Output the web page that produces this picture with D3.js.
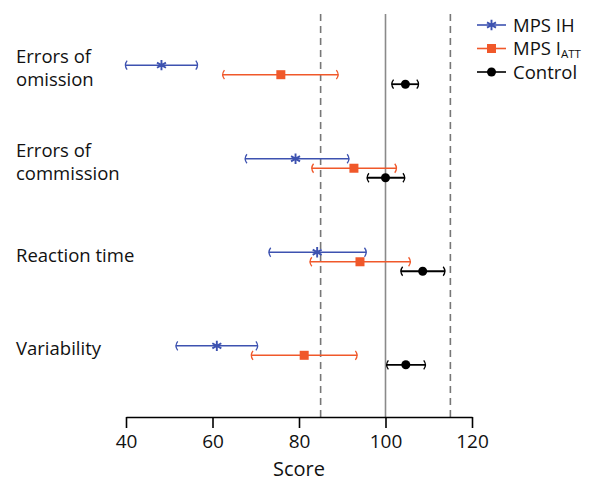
<!DOCTYPE html>
<html>
<head>
<meta charset="utf-8">
<script src="https://cdn.jsdelivr.net/npm/d3@7"></script>
<style>
  body { margin: 0; background: #fff; }
  text { font-family: "Open Sans", "Noto Sans", sans-serif; fill: #111; }
</style>
</head>
<body>
<script>
var svgWidth = 591;
var svgHeight = 483;

// measures, top to bottom
var categories = ["Errors of omission", "Errors of commission", "Reaction time", "Variability"];
var categoryLines = [["Errors of", "omission"], ["Errors of", "commission"], ["Reaction time"], ["Variability"]];
var series = ["MPS IH", "MPS IATT", "Control"];

// mean and interval per measure, same order as categories
var ihMean = [48.2, 79.2, 84.2, 61.0];
var ihLow = [39.8, 67.5, 73.0, 51.5];
var ihHigh = [56.6, 91.6, 95.6, 70.5];

var attMean = [75.8, 92.7, 94.1, 81.2];
var attLow = [62.3, 82.9, 82.5, 68.9];
var attHigh = [89.1, 102.6, 105.8, 93.5];

var ctrlMean = [104.6, 100.0, 108.6, 104.7];
var ctrlLow = [101.4, 95.7, 103.5, 100.2];
var ctrlHigh = [107.7, 104.5, 113.8, 109.3];

var xTicks = [40, 60, 80, 100, 120];
var refValue = 100;
var bandValues = [85, 115];

var colors = {"MPS IH": "#3d52b0", "MPS IATT": "#f0582a", "Control": "#000000"};

var svg = d3.select("body")
            .append("svg")
            .attr("width", svgWidth)
            .attr("height", svgHeight);

var xScale = d3.scaleLinear()
               .domain([40, 120])
               .range([126, 472]);

var yScale = d3.scalePoint()
               .domain(categories)
               .range([74.7, 355.3]);

var offset = d3.scalePoint()
               .domain(series)
               .range([-9.5, 9.5]);

var axisY = 417;
var topY = 14;

// reference lines
svg.append("line")
   .attr("x1", xScale(refValue)).attr("x2", xScale(refValue))
   .attr("y1", topY).attr("y2", axisY)
   .attr("stroke", "#8a8a8a")
   .attr("stroke-width", 1.6);

svg.selectAll("line.band")
   .data(bandValues)
   .enter()
   .append("line")
   .classed("band", true)
   .attr("x1", d => xScale(d)).attr("x2", d => xScale(d))
   .attr("y1", topY).attr("y2", axisY)
   .attr("stroke", "#777")
   .attr("stroke-width", 1.6)
   .attr("stroke-dasharray", "7,5");

// x axis
var bottomAxis = d3.axisBottom(xScale)
                   .tickValues(xTicks)
                   .tickSize(11)
                   .tickSizeOuter(0)
                   .tickPadding(7);

var xAxis = svg.append("g")
               .attr("transform", `translate(0, ${axisY})`)
               .call(bottomAxis);

xAxis.select(".domain").attr("stroke", "#000").attr("stroke-width", 1.6);
xAxis.selectAll(".tick line").attr("stroke", "#000").attr("stroke-width", 1.6);
xAxis.selectAll(".tick text")
     .attr("font-size", 19)
     .attr("font-family", "Open Sans, Noto Sans, sans-serif")
     .attr("fill", "#111");

svg.append("text")
   .attr("x", (xScale(40) + xScale(120)) / 2)
   .attr("y", 476)
   .attr("text-anchor", "middle")
   .attr("font-size", 20)
   .text("Score");

// category labels, one text per line
categoryLines.forEach(function(lines, i) {
  var cy = yScale(categories[i]) + offset("MPS IH") + 3;
  lines.forEach(function(line, j) {
    svg.append("text")
       .attr("x", 16)
       .attr("y", cy + (j - (lines.length - 1) / 2) * 23 + 6.5)
       .attr("font-size", 18.5)
       .text(line);
  });
});

// build rows from arrays
var rows = [];
categories.forEach(function(c, i) {
  rows.push({cat: c, s: "MPS IH", mean: ihMean[i], lo: ihLow[i], hi: ihHigh[i]});
  rows.push({cat: c, s: "MPS IATT", mean: attMean[i], lo: attLow[i], hi: attHigh[i]});
  rows.push({cat: c, s: "Control", mean: ctrlMean[i], lo: ctrlLow[i], hi: ctrlHigh[i]});
});

function rowY(d) { return yScale(d.cat) + offset(d.s); }

var groups = svg.selectAll("g.row")
                .data(rows)
                .enter()
                .append("g")
                .classed("row", true);

groups.append("line")
      .attr("x1", d => xScale(d.lo))
      .attr("x2", d => xScale(d.hi))
      .attr("y1", rowY).attr("y2", rowY)
      .attr("stroke", d => colors[d.s])
      .attr("stroke-width", d => d.s === "Control" ? 1.8 : 1.5);

// bracket shaped caps
groups.append("path")
      .attr("d", function(d) {
        var x = xScale(d.lo), y = rowY(d);
        return `M${x + 2},${y - 4.5} Q${x - 1.5},${y} ${x + 2},${y + 4.5}`;
      })
      .attr("fill", "none")
      .attr("stroke", d => colors[d.s])
      .attr("stroke-width", 1.3);

groups.append("path")
      .attr("d", function(d) {
        var x = xScale(d.hi), y = rowY(d);
        return `M${x - 2},${y - 4.5} Q${x + 1.5},${y} ${x - 2},${y + 4.5}`;
      })
      .attr("fill", "none")
      .attr("stroke", d => colors[d.s])
      .attr("stroke-width", 1.3);

function drawMarker(sel, s) {
  if (s === "MPS IH") {
    sel.append("path")
       .attr("d", d3.symbol().type(d3.symbolAsterisk).size(75)())
       .attr("fill", "none")
       .attr("stroke", colors[s])
       .attr("stroke-width", 1.9);
  } else if (s === "MPS IATT") {
    sel.append("rect")
       .attr("x", -4.5).attr("y", -4.5)
       .attr("width", 9).attr("height", 9)
       .attr("fill", colors[s]);
  } else {
    sel.append("circle")
       .attr("r", 4.5)
       .attr("fill", colors[s]);
  }
}

groups.each(function(d) {
  var m = d3.select(this)
            .append("g")
            .attr("transform", `translate(${xScale(d.mean)}, ${rowY(d)})`);
  drawMarker(m, d.s);
});

// legend
var legend = svg.append("g");
series.forEach(function(s, i) {
  var y = 25 + i * 23.5;
  legend.append("line")
        .attr("x1", 477).attr("x2", 506)
        .attr("y1", y).attr("y2", y)
        .attr("stroke", colors[s])
        .attr("stroke-width", 1.6);
  var m = legend.append("g").attr("transform", `translate(491.5, ${y})`);
  drawMarker(m, s);
  var t = legend.append("text")
                .attr("x", 513)
                .attr("y", y + 6.5)
                .attr("font-size", 18.5);
  if (s === "MPS IATT") {
    t.append("tspan").text("MPS I");
    t.append("tspan")
     .attr("font-size", 11.5)
     .attr("dy", 2.5)
     .text("ATT");
  } else {
    t.text(s);
  }
});
</script>
</body>
</html>
